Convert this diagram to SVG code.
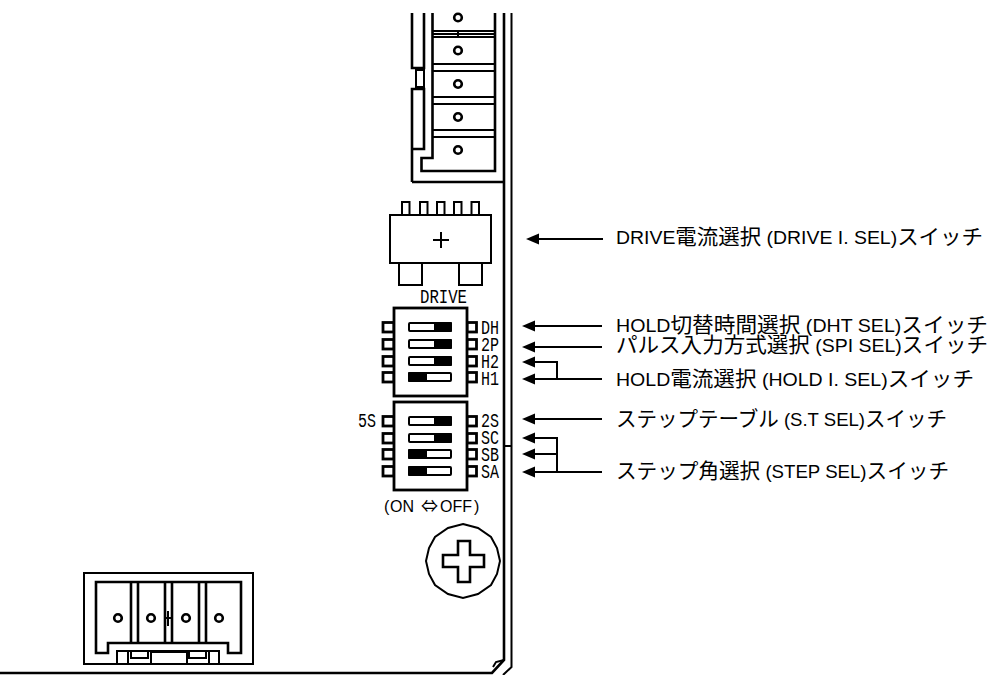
<svg xmlns="http://www.w3.org/2000/svg" width="991" height="675" viewBox="0 0 991 675">
<style>
.l{fill:none;stroke:#000;stroke-width:2}
.b{fill:#fff;stroke:#000;stroke-width:2}
.w{fill:#fff;stroke:#000;stroke-width:2.800}
.h{fill:none;stroke:#000;stroke-width:2.600}
.k{fill:#000;stroke:none}
.t{font-family:"Liberation Sans","Noto Sans CJK JP",sans-serif;font-size:19px;fill:#000}
.t tspan{font-size:21px}
.m{font-family:"Liberation Mono","DejaVu Sans Mono",monospace;font-size:20px;fill:#000}
.c{font-family:"Liberation Sans","Noto Sans CJK JP",sans-serif;font-size:16px;fill:#000}
.j{font-family:"Noto Sans CJK JP",sans-serif;font-size:17px}
</style>
<defs>
<marker id="a" markerUnits="userSpaceOnUse" markerWidth="13" markerHeight="12" refX="0" refY="6" orient="auto" viewBox="0 0 13 12"><path d="M0 0.500L13 6L0 11.500Z" fill="#000"/></marker>
<g id="toggleR"><rect x="409" y="-4" width="42" height="8" rx="1" class="b"/><rect x="434" y="-5" width="18" height="10" rx="1" class="k"/></g>
<g id="toggleL"><rect x="409" y="-4" width="42" height="8" rx="1" class="b"/><rect x="408" y="-5" width="19" height="10" rx="1" class="k"/></g>
<g id="tabs"><rect x="383" y="-4.500" width="11" height="9.500" class="w"/><rect x="467" y="-4.500" width="9.500" height="9.500" class="w"/></g>
</defs>

<g id="panel">
<path class="h" d="M504 13V660L492 673H0"/>
<path class="l" d="M511.500 13V667L503 675"/>
<path class="l" d="M504 446H511.500"/>
<path class="l" d="M493 667L496 662L504 660"/>
</g>

<g id="top-connector">
<path class="h" d="M412 13V68H424V13"/>
<path class="l" d="M416 70H424V87H416Z"/>
<path class="h" d="M412 182V89H424V149H412"/>
<path class="h" d="M412 182H504"/>
<path class="h" d="M432.500 13V158H421.500V171H495V13"/>
<path class="l" d="M432 31H495M432 34H495M432 37H495"/>
<path class="l" d="M458 30V38"/>
<path class="l" d="M432 64H495M432 71H495M432 97H495M432 104H495M432 130H495M432 137H495"/>
<circle class="h" cx="458" cy="17.500" r="3.800"/>
<circle class="h" cx="458" cy="50.500" r="3.800"/>
<circle class="h" cx="458" cy="84" r="3.800"/>
<circle class="h" cx="458" cy="117" r="3.800"/>
<circle class="h" cx="458" cy="150" r="3.800"/>
</g>

<g id="drive-switch">
<rect class="l" x="402" y="202" width="7.500" height="13"/>
<rect class="l" x="420" y="202" width="7.500" height="13"/>
<rect class="l" x="437" y="202" width="7.500" height="13"/>
<rect class="l" x="454" y="202" width="7.500" height="13"/>
<rect class="l" x="471.500" y="202" width="7.500" height="13"/>
<rect class="b" x="390" y="215" width="101" height="48"/>
<path class="l" d="M433 240H449M441 232V248"/>
<rect class="l" x="399" y="263" width="23" height="22"/>
<rect class="l" x="459" y="263" width="23" height="22"/>
<text class="m" x="420" y="303" textLength="47" lengthAdjust="spacingAndGlyphs">DRIVE</text>
</g>

<g id="dip-upper">
<use href="#tabs" y="327"/><use href="#tabs" y="344"/><use href="#tabs" y="361"/><use href="#tabs" y="377"/>
<rect x="394" y="308" width="73" height="88" class="w"/>
<use href="#toggleR" y="327"/><use href="#toggleR" y="344"/><use href="#toggleR" y="361"/><use href="#toggleL" y="377"/>
<text class="m" x="481" y="334" textLength="18" lengthAdjust="spacingAndGlyphs">DH</text>
<text class="m" x="481" y="351" textLength="18" lengthAdjust="spacingAndGlyphs">2P</text>
<text class="m" x="481" y="368" textLength="18" lengthAdjust="spacingAndGlyphs">H2</text>
<text class="m" x="481" y="385" textLength="18" lengthAdjust="spacingAndGlyphs">H1</text>
</g>

<g id="dip-lower">
<use href="#tabs" y="421"/><use href="#tabs" y="438"/><use href="#tabs" y="454"/><use href="#tabs" y="471"/>
<rect x="394" y="402" width="73" height="88" class="w"/>
<use href="#toggleR" y="421"/><use href="#toggleR" y="438"/><use href="#toggleL" y="454"/><use href="#toggleL" y="471"/>
<text class="m" x="358" y="427" textLength="18" lengthAdjust="spacingAndGlyphs">5S</text>
<text class="m" x="481" y="427" textLength="18" lengthAdjust="spacingAndGlyphs">2S</text>
<text class="m" x="481" y="444" textLength="18" lengthAdjust="spacingAndGlyphs">SC</text>
<text class="m" x="481" y="461" textLength="18" lengthAdjust="spacingAndGlyphs">SB</text>
<text class="m" x="481" y="478" textLength="18" lengthAdjust="spacingAndGlyphs">SA</text>
<text class="c" y="512"><tspan x="384">(</tspan><tspan x="390">ON </tspan><tspan class="j" x="421">⇔</tspan><tspan x="440">OFF</tspan><tspan x="474">)</tspan></text>
</g>

<g id="screw">
<path class="l" d="M463 524L478 528L491 537L497 548L500 561L497 574L491 585L478 594L463 598L448 594L435 585L429 574L426 561L429 548L435 537L448 528Z"/>
<path class="h" d="M458 541H470V555H484V567H470V582H458V567H443V555H458Z"/>
</g>

<g id="bottom-connector">
<rect class="l" x="84" y="573" width="169" height="91"/>
<path class="h" d="M96 582H241V653H228V643H108V653H96Z"/>
<path class="h" d="M131 582V643M138 582V643M165 582V643M172 582V643M199 582V643M206 582V643"/>
<path class="l" d="M168 611V626M164 618H172"/>
<circle class="h" cx="118" cy="618" r="3.800"/>
<circle class="h" cx="151" cy="618" r="3.800"/>
<circle class="h" cx="186" cy="618" r="3.800"/>
<circle class="h" cx="219" cy="618" r="3.800"/>
<path class="l" d="M117 664V651H219V664M117 664H128V651M209 664H219M209 651V664"/>
<rect class="l" x="131" y="651" width="17" height="7"/>
<rect class="l" x="151" y="652" width="36" height="12"/>
<rect class="l" x="189" y="651" width="17" height="7"/>
</g>

<g id="connectors">
<path class="l" d="M603 239H539" marker-end="url(#a)"/>
<path class="l" d="M602 326H535" marker-end="url(#a)"/>
<path class="l" d="M602 347H535" marker-end="url(#a)"/>
<path class="l" d="M557 379V362H535" marker-end="url(#a)"/>
<path class="l" d="M602 379H535" marker-end="url(#a)"/>
<path class="l" d="M602 419H535" marker-end="url(#a)"/>
<path class="l" d="M557 472V438H535" marker-end="url(#a)"/>
<path class="l" d="M557 454H535" marker-end="url(#a)"/>
<path class="l" d="M602 472H535" marker-end="url(#a)"/>
</g>

<g id="labels">
<text class="t" x="616" y="244" textLength="367" lengthAdjust="spacingAndGlyphs">DRIVE<tspan>電流選択</tspan> (DRIVE I. SEL)<tspan>スイッチ</tspan></text>
<text class="t" x="616" y="332" textLength="372" lengthAdjust="spacingAndGlyphs">HOLD<tspan>切替時間選択</tspan> (DHT SEL)<tspan>スイッチ</tspan></text>
<text class="t" x="616" y="352" textLength="372" lengthAdjust="spacingAndGlyphs"><tspan>パルス入力方式選択</tspan> (SPI SEL)<tspan>スイッチ</tspan></text>
<text class="t" x="616" y="386" textLength="358" lengthAdjust="spacingAndGlyphs">HOLD<tspan>電流選択</tspan> (HOLD I. SEL)<tspan>スイッチ</tspan></text>
<text class="t" x="616" y="426" textLength="331" lengthAdjust="spacingAndGlyphs"><tspan>ステップテーブル</tspan> (S.T SEL)<tspan>スイッチ</tspan></text>
<text class="t" x="616" y="478" textLength="333" lengthAdjust="spacingAndGlyphs"><tspan>ステップ角選択</tspan> (STEP SEL)<tspan>スイッチ</tspan></text>
</g>
</svg>
